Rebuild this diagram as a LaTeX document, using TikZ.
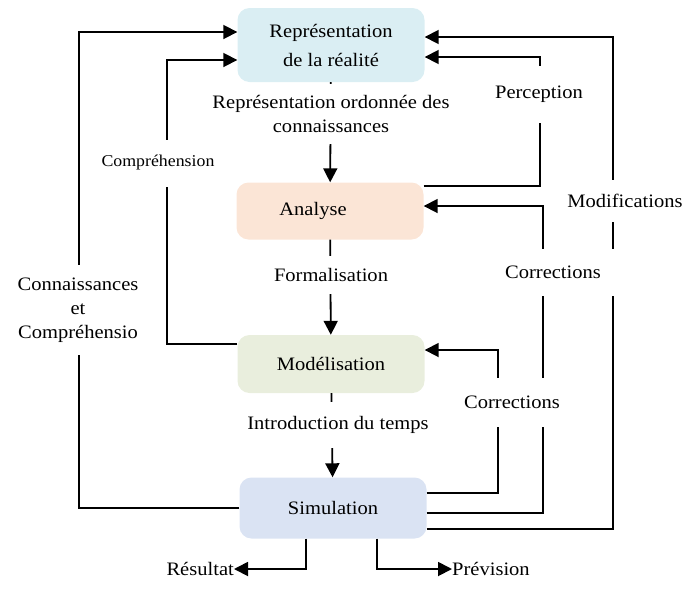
\documentclass[tikz,border=0pt]{standalone}
\usepackage{fontspec}
\setmainfont{Liberation Serif}[FakeStretch=1.08]
\usepackage{tikz}
\usetikzlibrary{arrows.meta, positioning}
\definecolor{RepBlue}{HTML}{DAEEF3}
\definecolor{AnaPeach}{HTML}{FBE5D6}
\definecolor{ModGreen}{HTML}{E9EEDD}
\definecolor{SimBlue}{HTML}{DAE3F3}

\begin{document}
\begin{tikzpicture}[x=1pt, y=-1pt,
    box/.style={rounded corners=12pt, minimum width=187pt, align=center,
        font=\fontsize{19}{29}\selectfont},
    lab/.style={fill=white, inner sep=0pt, align=center,
        font=\fontsize{19}{24}\selectfont},
    arr/.style={line width=1.8pt, -{Triangle[length=14pt,width=14pt]}}]
    \useasboundingbox (0,0) rectangle (684,600);

    % Main boxes
    \node[box, fill=RepBlue, minimum height=74pt] (rep) at (331,45) {Représentation\\de la réalité};
    \node[box, fill=AnaPeach, minimum height=57pt] (ana) at (330,211) {\hspace*{-34pt}Analyse};
    \node[box, fill=ModGreen, minimum height=58pt] (mod) at (331,364) {Modélisation};
    \node[box, fill=SimBlue, minimum height=61pt] (sim) at (333,508) {Simulation};

    % Outputs
    \node[lab, anchor=east] (res) at (234,569) {Résultat};
    \node[lab, anchor=west] (prev) at (452,569) {Prévision};

    % Central chain
    \draw[arr] (rep) -- (ana);
    \draw[arr] (ana) -- (mod);
    \draw[arr] (mod) -- (sim);

    % Feedback loops on the left
    \draw[arr] (sim.west) -| (79,32) -- (rep.west |- 0,32);
    \draw[arr] (mod.west |- 0,344) -| (167,60) -- (rep.west |- 0,60);

    % Feedback loops on the right
    \draw[arr] (ana.east |- 0,186) -| (540,57) -- (rep.east |- 0,57);
    \draw[arr] (sim.east |- 0,529) -| (613,37) -- (rep.east |- 0,37);
    \draw[arr] (sim.east |- 0,513) -| (543,206) -- (ana.east |- 0,206);
    \draw[arr] (sim.east |- 0,493) -| (498,350) -- (mod.east |- 0,350);

    % Results
    \draw[arr] (sim.south -| 306,0) |- (res.east);
    \draw[arr] (sim.south -| 377,0) |- (prev.west);

    % Labels on top of the lines
    \node[lab, minimum height=60pt] (lrep) at (331,114) {Représentation ordonnée des\\connaissances};
    \node[lab, minimum height=38pt] (lform) at (331,275) {Formalisation};
    \node[lab, minimum height=46pt] (ltemps) at (338,425) {Introduction du temps};
    \node[lab, minimum height=57pt] (lperc) at (539,94) {Perception};
    \node[lab, minimum height=42pt] (lmodif) at (625,201) {Modifications};
    \node[lab, minimum height=47pt, minimum width=126pt] (lcorrA) at (553,272) {Corrections};
    \node[lab, minimum height=49pt] (lcorrM) at (512,402) {Corrections};
    \node[lab, minimum height=47pt, font=\fontsize{16.5}{20}\selectfont] (lcomp) at (158,163) {Compréhension};
    \node[lab, minimum height=90pt] (lconn) at (78,310) {Connaissances\\et\\Compréhensio};
\end{tikzpicture}
\end{document}
